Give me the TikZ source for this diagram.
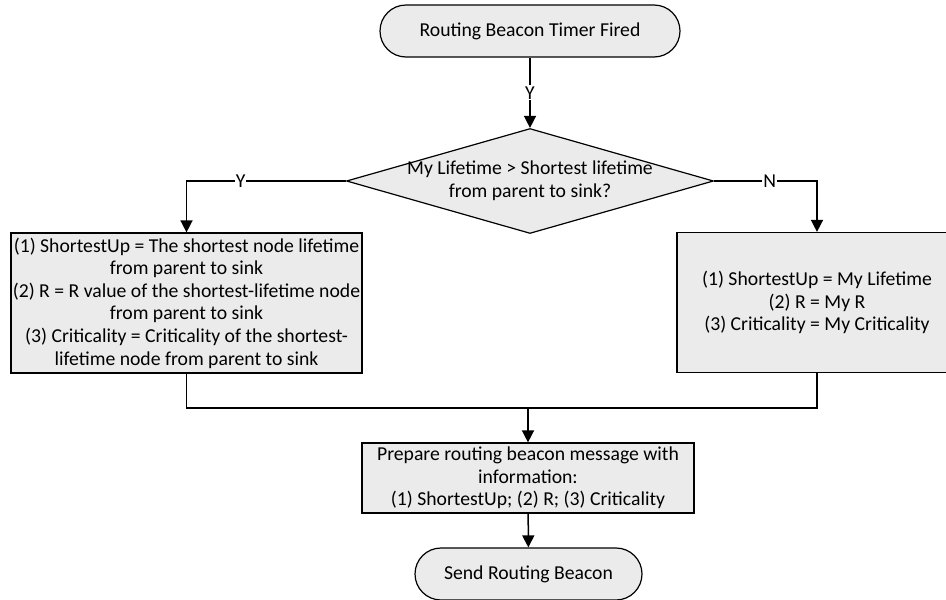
\documentclass[tikz,border=0pt]{standalone}
\usepackage{fontspec}
\setmainfont{Carlito}
\usetikzlibrary{shapes.geometric,arrows.meta,positioning}
\definecolor{boxgray}{RGB}{235,235,235}

\begin{document}
\begin{tikzpicture}[x=1pt,y=-1pt,
			every node/.style={font=\fontsize{19.7}{22.6}\selectfont},
			box/.style={draw,fill=boxgray,line width=1.2pt,align=center,inner sep=0pt},
			term/.style={box,rounded corners=26pt,minimum height=52pt},
			decision/.style={box,diamond,minimum width=367pt,minimum height=105pt},
			yn/.style={fill=white,inner sep=1pt},
			flow/.style={line width=1.5pt,-{Triangle[length=12pt,width=12pt]}},
			link/.style={line width=1.5pt}]
			
			\useasboundingbox (0,0) rectangle (946,600);
			
			% Start and end of the flow
			\node[term,minimum width=300pt] (start) at (530,31) {Routing Beacon Timer Fired};
			\node[term,minimum width=227pt] (send) at (528.5,574) {Send Routing Beacon};
			
			% Lifetime test
			\node[decision] (dec) at (530,181) {};
			\node[align=center] (q) at (dec) {My Lifetime > Shortest lifetime\\from parent to sink?};
			
			% The two ways of setting ShortestUp, R and Criticality
			\node[box,minimum width=351pt,minimum height=140pt] (lbox) at (186.5,303)
				{(1) ShortestUp = The shortest node lifetime\\from parent to sink\\(2) R = R value of the shortest-lifetime node\\from parent to sink\\(3) Criticality = Criticality of the shortest-\\lifetime node from parent to sink};
			\node[box,minimum width=280pt,minimum height=140pt] (rbox) at (817,302.5)
				{(1) ShortestUp = My Lifetime\\(2) R = My R\\(3) Criticality = My Criticality};
			
			% Beacon message
			\node[box,minimum width=332pt,minimum height=70pt] (prep) at (528,478)
				{Prepare routing beacon message with\\information:\\(1) ShortestUp; (2) R; (3) Criticality};
			
			% Branches out of the test
			\draw[flow] (start) -- node[yn]{Y} (dec);
			\draw[flow] (dec.west) -| node[yn,pos=0.33]{Y} (lbox.north);
			\draw[flow] (dec.east) -| node[yn,pos=0.27]{N} (rbox.north);
			
			% Both branches join above the message box
			\coordinate (join) at (prep.north |- 0,408);
			\draw[link] (lbox.south) |- (rbox.south |- join) -- (rbox.south);
			\draw[flow] (join) -- (prep);
			\draw[flow] (prep) -- (send);
			
		\end{tikzpicture}
\end{document}
